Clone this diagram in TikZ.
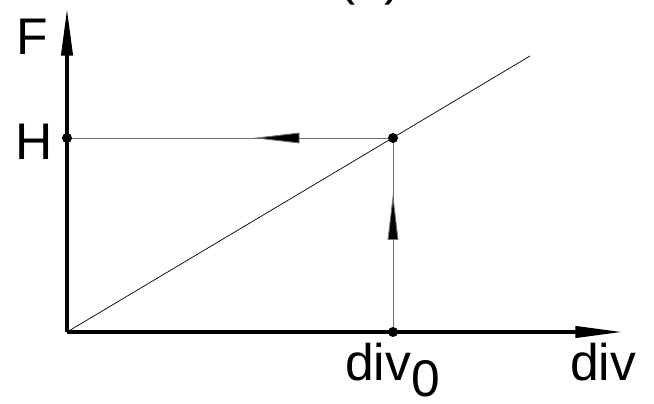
\documentclass[tikz,border=0pt]{standalone}
\usepackage{fontspec}
\setmainfont{Liberation Sans}
\usepackage{tikz}
\usepackage{xcolor}
\usetikzlibrary{arrows.meta,calc,positioning}
\definecolor{AxisBlack}{HTML}{000000}
\definecolor{GuideGray}{HTML}{6E6E6E}

\begin{document}
\begin{tikzpicture}[
      x=0.03cm,y=-0.03cm,
      font=\fontsize{44}{48}\selectfont,
      axis/.style={draw=AxisBlack,line width=2.6pt,-{Triangle[length=1.4cm,width=0.34cm]}},
      guide/.style={draw=GuideGray,line width=0.8pt},
      diag/.style={draw=AxisBlack,line width=0.6pt},
      flow/.style={draw=GuideGray,line width=0.8pt,-{Triangle[length=1.4cm,width=0.32cm,fill=AxisBlack]}},
      dot/.style={circle,fill=AxisBlack,inner sep=0pt,minimum size=0.3cm},
      lbl/.style={anchor=base west,inner sep=0pt}
    ]
      \useasboundingbox (0,0) rectangle (654,404);
      % points
      \coordinate (O) at (67,332);
      \coordinate (Fend) at (67,9);
      \coordinate (Dend) at (622,332);
      \coordinate (Lend) at (530,56);
      \coordinate (p) at (393,138);
      \coordinate (h) at (67,138);
      \coordinate (d) at (393,332);
      % lines
      \draw[diag] (O) -- (Lend);
      \draw[guide] (p) -- (h);
      \draw[guide] (d) -- (p);
      \draw[axis] (O) -- (Fend);
      \draw[axis] (O) -- (Dend);
      \draw[flow] ($(p)!0.28!(h)$) -- ($(p)!0.43!(h)$);
      \draw[flow] ($(d)!0.46!(p)$) -- ($(d)!0.715!(p)$);
      % dots
      \node[dot] (P) at (p) {};
      \node[dot] (H) at (h) {};
      \node[dot] (D) at (d) {};
      % labels
      \node[lbl] (labF) at (16,55) {F};
      \node[lbl] (labH) at (15,160) {H};
      \node[lbl] (labdiv) at (570,380) {div};
      \node[lbl] (labdivo) at (345,380) {div\raisebox{-0.5cm}{0}};
      \node[lbl] (title) at (338,-5) {(a)};
    \end{tikzpicture}
\end{document}
